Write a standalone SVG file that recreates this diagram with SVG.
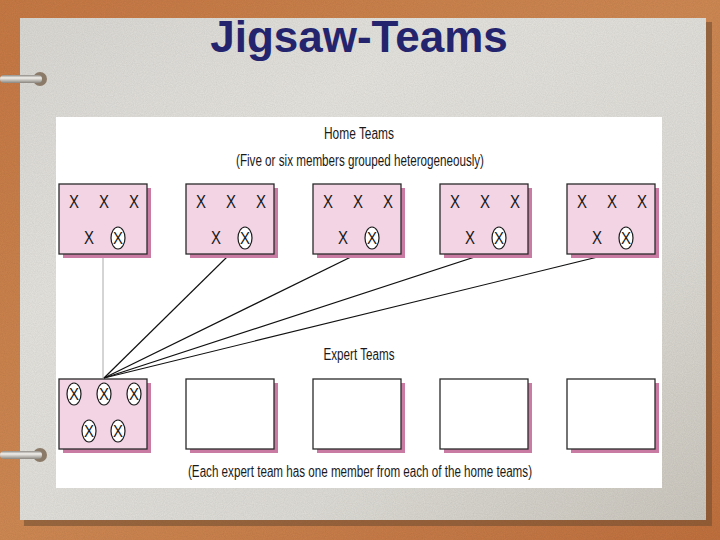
<svg xmlns="http://www.w3.org/2000/svg" width="720" height="540" viewBox="0 0 720 540">
<defs>
<linearGradient id="wood" x1="0" y1="0" x2="1" y2="1">
<stop offset="0" stop-color="#c87a45"/><stop offset="0.5" stop-color="#d08a55"/><stop offset="1" stop-color="#c27240"/>
</linearGradient>
<linearGradient id="paper" x1="0" y1="0" x2="1" y2="1">
<stop offset="0" stop-color="#dcdad5"/><stop offset="0.3" stop-color="#e7e5e0"/><stop offset="0.7" stop-color="#e0ded8"/><stop offset="1" stop-color="#cdc9c0"/>
</linearGradient>
<linearGradient id="rod" x1="0" y1="0" x2="0" y2="1">
<stop offset="0" stop-color="#8e8a84"/><stop offset="0.35" stop-color="#f2f0ec"/><stop offset="1" stop-color="#8a857e"/>
</linearGradient>
<filter id="grain" x="0" y="0" width="100%" height="100%">
<feTurbulence type="fractalNoise" baseFrequency="0.9" numOctaves="2" seed="3" result="n"/>
<feColorMatrix in="n" type="matrix" values="0 0 0 0 0  0 0 0 0 0  0 0 0 0 0  0 0 0 0.18 0" result="a"/>
<feComposite in="a" in2="SourceGraphic" operator="in" result="b"/>
<feMerge><feMergeNode in="SourceGraphic"/><feMergeNode in="b"/></feMerge>
</filter>
<style>
.lbl{font-family:"Liberation Sans Narrow","Liberation Sans",Arial,sans-serif;font-size:16px;fill:#1a1a1a;text-anchor:middle}
.x{font-family:"Liberation Sans Narrow","Liberation Sans",Arial,sans-serif;font-size:18px;fill:#1a1a1a;text-anchor:middle}
.ox{font-family:"Liberation Sans Narrow","Liberation Sans",Arial,sans-serif;font-size:17px;fill:#1a1a1a;text-anchor:middle}
.shadow{fill:#c97ba3}
.box{fill:#f2d4e4;stroke:#2a2a2a;stroke-width:1.3}
.ebox{fill:#ffffff;stroke:#2a2a2a;stroke-width:1.3}
.oval{fill:#ffffff;stroke:#1a1a1a;stroke-width:1.2}
.fan{stroke:#111;stroke-width:1.2;fill:none}
</style>
<g id="ovalsym"><ellipse class="oval" cx="0" cy="0" rx="7" ry="11"/><text class="ox" x="0" y="6" textLength="10" lengthAdjust="spacingAndGlyphs">X</text></g>
</defs>

<rect x="0" y="0" width="720" height="540" fill="url(#wood)" filter="url(#grain)"/>
<rect x="24" y="22" width="688" height="504" fill="#6b4a30" opacity="0.55"/>
<rect x="20" y="18" width="686" height="502" fill="url(#paper)" filter="url(#grain)"/>

<g id="ring-top"><ellipse cx="40" cy="79" rx="7" ry="7" fill="#8c7a68"/><rect x="0" y="75" width="42" height="8" rx="4" fill="url(#rod)"/></g>
<g id="ring-bottom"><ellipse cx="40" cy="455" rx="7" ry="7" fill="#8c7a68"/><rect x="0" y="451" width="42" height="8" rx="4" fill="url(#rod)"/></g>

<text x="359" y="52" font-family="Liberation Sans,Arial,sans-serif" font-weight="bold" font-size="44" fill="#24246e" text-anchor="middle">Jigsaw-Teams</text>

<rect x="56" y="117" width="606" height="371" fill="#ffffff"/>

<text class="lbl" x="359" y="139" textLength="70" lengthAdjust="spacingAndGlyphs">Home Teams</text>
<text class="lbl" x="360" y="166" textLength="248" lengthAdjust="spacingAndGlyphs">(Five or six members grouped heterogeneously)</text>
<text class="lbl" x="359" y="360" textLength="71" lengthAdjust="spacingAndGlyphs">Expert Teams</text>
<text class="lbl" x="360" y="477" textLength="344" lengthAdjust="spacingAndGlyphs">(Each expert team has one member from each of the home teams)</text>

<g id="connectors">
<line x1="103" y1="254" x2="103" y2="378" stroke="#aaaaaa" stroke-width="1"/>
<line class="fan" x1="230" y1="254" x2="104" y2="378"/>
<line class="fan" x1="357" y1="254" x2="104" y2="378"/>
<line class="fan" x1="484" y1="254" x2="104" y2="378"/>
<line class="fan" x1="610" y1="254" x2="104" y2="378"/>
</g>

<g id="home1" transform="translate(59,184)">
<rect class="shadow" x="4" y="4" width="88" height="70"/><rect class="box" x="0" y="0" width="88" height="70"/>
<text class="x" x="15" y="24" textLength="10" lengthAdjust="spacingAndGlyphs">X</text><text class="x" x="45" y="24" textLength="10" lengthAdjust="spacingAndGlyphs">X</text><text class="x" x="75" y="24" textLength="10" lengthAdjust="spacingAndGlyphs">X</text>
<text class="x" x="30" y="60" textLength="10" lengthAdjust="spacingAndGlyphs">X</text><use href="#ovalsym" x="59" y="54"/>
</g>
<g id="home2" transform="translate(186,184)">
<rect class="shadow" x="4" y="4" width="88" height="70"/><rect class="box" x="0" y="0" width="88" height="70"/>
<text class="x" x="15" y="24" textLength="10" lengthAdjust="spacingAndGlyphs">X</text><text class="x" x="45" y="24" textLength="10" lengthAdjust="spacingAndGlyphs">X</text><text class="x" x="75" y="24" textLength="10" lengthAdjust="spacingAndGlyphs">X</text>
<text class="x" x="30" y="60" textLength="10" lengthAdjust="spacingAndGlyphs">X</text><use href="#ovalsym" x="59" y="54"/>
</g>
<g id="home3" transform="translate(313,184)">
<rect class="shadow" x="4" y="4" width="88" height="70"/><rect class="box" x="0" y="0" width="88" height="70"/>
<text class="x" x="15" y="24" textLength="10" lengthAdjust="spacingAndGlyphs">X</text><text class="x" x="45" y="24" textLength="10" lengthAdjust="spacingAndGlyphs">X</text><text class="x" x="75" y="24" textLength="10" lengthAdjust="spacingAndGlyphs">X</text>
<text class="x" x="30" y="60" textLength="10" lengthAdjust="spacingAndGlyphs">X</text><use href="#ovalsym" x="59" y="54"/>
</g>
<g id="home4" transform="translate(440,184)">
<rect class="shadow" x="4" y="4" width="88" height="70"/><rect class="box" x="0" y="0" width="88" height="70"/>
<text class="x" x="15" y="24" textLength="10" lengthAdjust="spacingAndGlyphs">X</text><text class="x" x="45" y="24" textLength="10" lengthAdjust="spacingAndGlyphs">X</text><text class="x" x="75" y="24" textLength="10" lengthAdjust="spacingAndGlyphs">X</text>
<text class="x" x="30" y="60" textLength="10" lengthAdjust="spacingAndGlyphs">X</text><use href="#ovalsym" x="59" y="54"/>
</g>
<g id="home5" transform="translate(567,184)">
<rect class="shadow" x="4" y="4" width="88" height="70"/><rect class="box" x="0" y="0" width="88" height="70"/>
<text class="x" x="15" y="24" textLength="10" lengthAdjust="spacingAndGlyphs">X</text><text class="x" x="45" y="24" textLength="10" lengthAdjust="spacingAndGlyphs">X</text><text class="x" x="75" y="24" textLength="10" lengthAdjust="spacingAndGlyphs">X</text>
<text class="x" x="30" y="60" textLength="10" lengthAdjust="spacingAndGlyphs">X</text><use href="#ovalsym" x="59" y="54"/>
</g>

<g id="expert1" transform="translate(59,379)">
<rect class="shadow" x="4" y="4" width="88" height="70"/><rect class="box" x="0" y="0" width="88" height="70"/>
<use href="#ovalsym" x="15" y="15"/><use href="#ovalsym" x="45" y="15"/><use href="#ovalsym" x="75" y="15"/>
<use href="#ovalsym" x="30" y="52"/><use href="#ovalsym" x="59" y="52"/>
</g>
<g id="expert2" transform="translate(186,379)">
<rect class="shadow" x="4" y="4" width="88" height="70"/><rect class="ebox" x="0" y="0" width="88" height="70"/>
</g>
<g id="expert3" transform="translate(313,379)">
<rect class="shadow" x="4" y="4" width="88" height="70"/><rect class="ebox" x="0" y="0" width="88" height="70"/>
</g>
<g id="expert4" transform="translate(440,379)">
<rect class="shadow" x="4" y="4" width="88" height="70"/><rect class="ebox" x="0" y="0" width="88" height="70"/>
</g>
<g id="expert5" transform="translate(567,379)">
<rect class="shadow" x="4" y="4" width="88" height="70"/><rect class="ebox" x="0" y="0" width="88" height="70"/>
</g>
</svg>
